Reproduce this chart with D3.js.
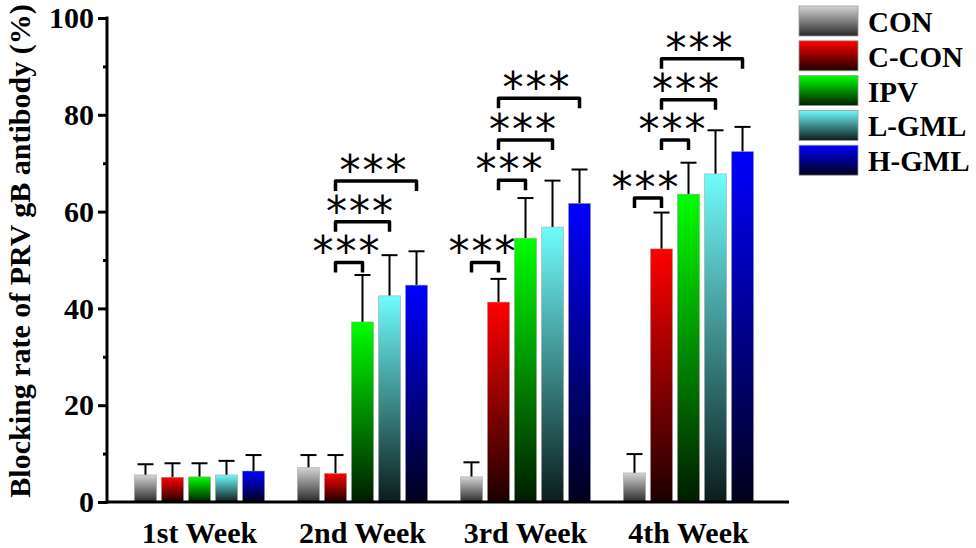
<!DOCTYPE html>
<html>
<head>
<meta charset="utf-8">
<script src="https://cdn.jsdelivr.net/npm/d3@7"></script>
<style>
  body { margin: 0; background: #fff; }
  svg { display: block; }
</style>
</head>
<body>
<div id="chart"></div>
<script>
  const weeks = ["1st Week", "2nd Week", "3rd Week", "4th Week"];
  const groups = ["CON", "C-CON", "IPV", "L-GML", "H-GML"];
  // mean blocking rate per group, one array per week
  const means = [
    [5.6, 5.1, 5.2, 5.6, 6.4],
    [7.1, 5.9, 37.2, 42.6, 44.8],
    [5.2, 41.3, 54.5, 56.8, 61.7],
    [6.0, 52.3, 63.6, 67.8, 72.4]
  ];
  // error (SD) above each bar
  const errors = [
    [2.2, 2.9, 2.8, 2.9, 3.3],
    [2.6, 3.8, 9.7, 8.4, 7.0],
    [3.0, 4.8, 8.3, 9.6, 7.0],
    [3.9, 7.5, 6.5, 9.0, 5.1]
  ];
  // significance brackets: week index, from group, to group, bracket level
  const brackets = [
    [1, "C-CON", "IPV", 49.5],
    [1, "C-CON", "L-GML", 57.9],
    [1, "C-CON", "H-GML", 66.3],
    [2, "CON", "C-CON", 49.5],
    [2, "C-CON", "IPV", 66.5],
    [2, "C-CON", "L-GML", 74.8],
    [2, "C-CON", "H-GML", 83.4],
    [3, "CON", "C-CON", 62.8],
    [3, "C-CON", "IPV", 74.8],
    [3, "C-CON", "L-GML", 83.1],
    [3, "C-CON", "H-GML", 91.6]
  ];
  const yTicks = [0, 20, 40, 60, 80, 100];
  const yMinorTicks = [10, 30, 50, 70, 90];

  const width = 976, height = 548;
  const serif = "'Liberation Serif', 'Times New Roman', serif";

  const svg = d3.select("#chart").append("svg")
    .attr("width", width)
    .attr("height", height)
    .style("background", "#fff");

  const y = d3.scaleLinear([0, 100], [502, 18]);
  const x0 = d3.scaleBand(weeks, [118, 770]);
  const x1 = d3.scaleBand(groups, [0, x0.bandwidth()])
    .paddingInner(0.185)
    .paddingOuter(0.61);

  const topColors = ["#d4d4d4", "#ff0000", "#00ff00", "#70fcfc", "#0000ff"];
  const bottomColors = ["#2a2a2a", "#1c0000", "#001c00", "#0c1c1c", "#00001c"];

  const defs = svg.append("defs");
  groups.forEach((g, i) => {
    const grad = defs.append("linearGradient")
      .attr("id", "grad" + i)
      .attr("x1", 0).attr("y1", 0).attr("x2", 0).attr("y2", 1);
    grad.append("stop").attr("offset", "0%").attr("stop-color", topColors[i]);
    grad.append("stop").attr("offset", "100%").attr("stop-color", bottomColors[i]);
  });

  const rows = weeks.flatMap((w, wi) => groups.map((g, gi) => ({
    week: w, group: g, gi, value: means[wi][gi], err: errors[wi][gi]
  })));

  const barX = d => x0(d.week) + x1(d.group);

  // error bars (behind bars)
  const eb = svg.append("g").attr("stroke", "#000").attr("stroke-width", 2);
  eb.selectAll("line.stem").data(rows).join("line")
    .attr("class", "stem")
    .attr("x1", d => barX(d) + x1.bandwidth() / 2)
    .attr("x2", d => barX(d) + x1.bandwidth() / 2)
    .attr("y1", d => y(d.value))
    .attr("y2", d => y(d.value + d.err));
  eb.selectAll("line.cap").data(rows).join("line")
    .attr("class", "cap")
    .attr("x1", d => barX(d) + x1.bandwidth() / 2 - 8)
    .attr("x2", d => barX(d) + x1.bandwidth() / 2 + 8)
    .attr("y1", d => y(d.value + d.err))
    .attr("y2", d => y(d.value + d.err));

  svg.append("g").selectAll("rect").data(rows).join("rect")
    .attr("x", barX)
    .attr("y", d => y(d.value))
    .attr("width", x1.bandwidth())
    .attr("height", d => y(0) - y(d.value))
    .attr("fill", d => `url(#grad${d.gi})`)
    .attr("stroke", "#9a9a9a")
    .attr("stroke-opacity", 0.6)
    .attr("stroke-width", 0.8);

  // axes
  const yAxis = svg.append("g").attr("transform", "translate(107,0)");
  yAxis.call(d3.axisLeft(y).tickValues(yTicks).tickSize(9).tickPadding(4).tickFormat(d3.format("d")))
    .call(g => g.select(".domain").remove())
    .call(g => g.selectAll(".tick line").attr("stroke-width", 3))
    .call(g => g.selectAll("text")
      .attr("font-family", serif)
      .attr("font-weight", "bold")
      .attr("font-size", 30)
      .attr("fill", "#000"));
  yAxis.append("g").call(d3.axisLeft(y).tickValues(yMinorTicks).tickSize(4).tickFormat(""))
    .call(g => g.select(".domain").remove())
    .call(g => g.selectAll(".tick line").attr("stroke-width", 3));
  yAxis.append("line")
    .attr("x1", 0).attr("x2", 0)
    .attr("y1", y(100) - 1.5).attr("y2", y(0) + 1.5)
    .attr("stroke", "#000").attr("stroke-width", 3);

  svg.append("line")
    .attr("x1", 107).attr("x2", 789)
    .attr("y1", y(0)).attr("y2", y(0))
    .attr("stroke", "#000").attr("stroke-width", 3);

  svg.append("g").selectAll("text").data(weeks).join("text")
    .attr("x", d => x0(d) + x0.bandwidth() / 2)
    .attr("y", 543)
    .attr("text-anchor", "middle")
    .attr("font-family", serif)
    .attr("font-weight", "bold")
    .attr("font-size", 30)
    .text(d => d);

  svg.append("text")
    .attr("transform", `translate(30,251) rotate(-90)`)
    .attr("text-anchor", "middle")
    .attr("font-family", serif)
    .attr("font-weight", "bold")
    .attr("font-size", 30)
    .text("Blocking rate of PRV gB antibody (%)");

  // significance brackets
  const center = (wi, g) => x0(weeks[wi]) + x1(g) + x1.bandwidth() / 2;
  const br = svg.append("g");
  br.selectAll("path").data(brackets).join("path")
    .attr("fill", "none")
    .attr("stroke", "#000")
    .attr("stroke-width", 3.5)
    .attr("stroke-linejoin", "round")
    .attr("d", d => {
      const a = center(d[0], d[1]), b = center(d[0], d[2]), t = y(d[3]);
      return `M${a},${t + 10}V${t}H${b}V${t + 10}`;
    });
  br.selectAll("text").data(brackets).join("text")
    .attr("x", d => (center(d[0], d[1]) + center(d[0], d[2])) / 2 - 2)
    .attr("y", d => y(d[3]) + 4)
    .attr("text-anchor", "middle")
    .attr("font-family", "'DejaVu Sans', sans-serif")
    .attr("font-size", 42)
    .attr("letter-spacing", 2)
    .text("***");

  // legend
  const legend = svg.append("g").selectAll("g").data(groups).join("g")
    .attr("transform", (d, i) => `translate(799,${6 + i * 34.8})`);
  legend.append("rect")
    .attr("width", 59)
    .attr("height", 30)
    .attr("fill", (d, i) => `url(#grad${i})`)
    .attr("stroke", "#9a9a9a")
    .attr("stroke-width", 0.8);
  legend.append("text")
    .attr("x", 69)
    .attr("y", 26)
    .attr("font-family", serif)
    .attr("font-weight", "bold")
    .attr("font-size", 29)
    .text(d => d);
</script>
</body>
</html>
